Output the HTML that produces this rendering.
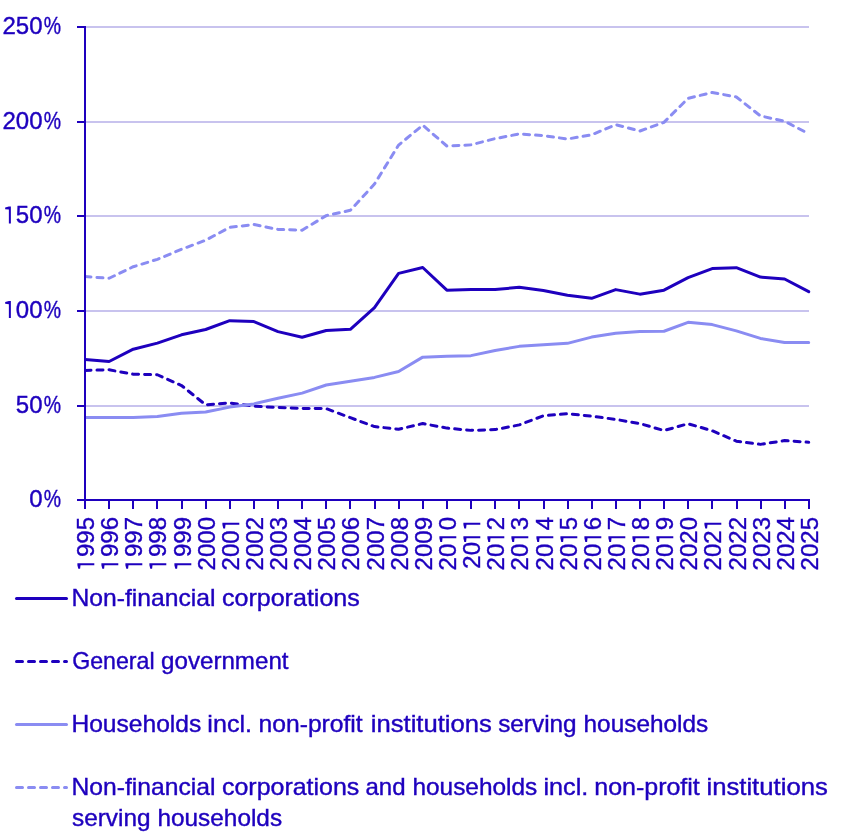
<!DOCTYPE html>
<html><head><meta charset="utf-8"><style>
html,body{margin:0;padding:0;background:#fff;}
body{width:850px;height:835px;overflow:hidden;}
svg{display:block;will-change:transform;}
text{font-family:"Liberation Sans", sans-serif;font-size:24px;fill:#1e00be;stroke:#1e00be;stroke-width:0.4px;}
.h{fill-opacity:0;stroke-opacity:0;}
.g1{fill:#1e00be;stroke:none;}
</style></head><body>
<svg width="850" height="835" viewBox="0 0 850 835">
<line x1="86" x2="809" y1="27" y2="27" stroke="#c8c3ee" stroke-width="2"/>
<line x1="86" x2="809" y1="122" y2="122" stroke="#c8c3ee" stroke-width="2"/>
<line x1="86" x2="809" y1="216" y2="216" stroke="#c8c3ee" stroke-width="2"/>
<line x1="86" x2="809" y1="311" y2="311" stroke="#c8c3ee" stroke-width="2"/>
<line x1="86" x2="809" y1="406" y2="406" stroke="#c8c3ee" stroke-width="2"/>
<line x1="77" x2="85" y1="27" y2="27" stroke="#1e00be" stroke-width="2"/>
<text x="42.5" y="34.20" text-anchor="end">250</text>
<text transform="translate(43.75,34.20) scale(0.81,1)">%</text>
<line x1="77" x2="85" y1="122" y2="122" stroke="#1e00be" stroke-width="2"/>
<text x="42.5" y="128.80" text-anchor="end">200</text>
<text transform="translate(43.75,128.80) scale(0.81,1)">%</text>
<line x1="77" x2="85" y1="216" y2="216" stroke="#1e00be" stroke-width="2"/>
<text x="42.5" y="223.40" text-anchor="end"><tspan class="h">1</tspan>50</text>
<path class="g1" transform="translate(0,223.40)" d="M10.87,0.00 L10.87,-16.90 L8.87,-16.90 L5.17,-16.00 L5.17,-14.20 L8.87,-13.80 L8.87,0.00Z"/>
<text transform="translate(43.75,223.40) scale(0.81,1)">%</text>
<line x1="77" x2="85" y1="311" y2="311" stroke="#1e00be" stroke-width="2"/>
<text x="42.5" y="318.00" text-anchor="end"><tspan class="h">1</tspan>00</text>
<path class="g1" transform="translate(0,318.00)" d="M10.87,0.00 L10.87,-16.90 L8.87,-16.90 L5.17,-16.00 L5.17,-14.20 L8.87,-13.80 L8.87,0.00Z"/>
<text transform="translate(43.75,318.00) scale(0.81,1)">%</text>
<line x1="77" x2="85" y1="406" y2="406" stroke="#1e00be" stroke-width="2"/>
<text x="42.5" y="412.60" text-anchor="end">50</text>
<text transform="translate(43.75,412.60) scale(0.81,1)">%</text>
<line x1="77" x2="85" y1="500" y2="500" stroke="#1e00be" stroke-width="2"/>
<text x="42.5" y="507.20" text-anchor="end">0</text>
<text transform="translate(43.75,507.20) scale(0.81,1)">%</text>
<line x1="85.00" x2="85.00" y1="500" y2="509" stroke="#1e00be" stroke-width="2"/>
<g transform="translate(94.30,517) rotate(-90)"><text text-anchor="end"><tspan class="h">1</tspan>995</text><path class="g1" d="M-46.15,0.00 L-46.15,-16.90 L-48.15,-16.90 L-51.85,-16.00 L-51.85,-14.20 L-48.15,-13.80 L-48.15,0.00Z"/></g>
<line x1="109.00" x2="109.00" y1="500" y2="509" stroke="#1e00be" stroke-width="2"/>
<g transform="translate(118.30,517) rotate(-90)"><text text-anchor="end"><tspan class="h">1</tspan>996</text><path class="g1" d="M-46.15,0.00 L-46.15,-16.90 L-48.15,-16.90 L-51.85,-16.00 L-51.85,-14.20 L-48.15,-13.80 L-48.15,0.00Z"/></g>
<line x1="133.00" x2="133.00" y1="500" y2="509" stroke="#1e00be" stroke-width="2"/>
<g transform="translate(142.30,517) rotate(-90)"><text text-anchor="end"><tspan class="h">1</tspan>997</text><path class="g1" d="M-46.15,0.00 L-46.15,-16.90 L-48.15,-16.90 L-51.85,-16.00 L-51.85,-14.20 L-48.15,-13.80 L-48.15,0.00Z"/></g>
<line x1="157.00" x2="157.00" y1="500" y2="509" stroke="#1e00be" stroke-width="2"/>
<g transform="translate(166.30,517) rotate(-90)"><text text-anchor="end"><tspan class="h">1</tspan>998</text><path class="g1" d="M-46.15,0.00 L-46.15,-16.90 L-48.15,-16.90 L-51.85,-16.00 L-51.85,-14.20 L-48.15,-13.80 L-48.15,0.00Z"/></g>
<line x1="182.00" x2="182.00" y1="500" y2="509" stroke="#1e00be" stroke-width="2"/>
<g transform="translate(191.30,517) rotate(-90)"><text text-anchor="end"><tspan class="h">1</tspan>999</text><path class="g1" d="M-46.15,0.00 L-46.15,-16.90 L-48.15,-16.90 L-51.85,-16.00 L-51.85,-14.20 L-48.15,-13.80 L-48.15,0.00Z"/></g>
<line x1="206.00" x2="206.00" y1="500" y2="509" stroke="#1e00be" stroke-width="2"/>
<g transform="translate(215.30,517) rotate(-90)"><text text-anchor="end">2000</text></g>
<line x1="230.00" x2="230.00" y1="500" y2="509" stroke="#1e00be" stroke-width="2"/>
<g transform="translate(239.30,517) rotate(-90)"><text text-anchor="end">200<tspan class="h">1</tspan></text><path class="g1" d="M-5.71,0.00 L-5.71,-16.90 L-7.71,-16.90 L-11.41,-16.00 L-11.41,-14.20 L-7.71,-13.80 L-7.71,0.00Z"/></g>
<line x1="254.00" x2="254.00" y1="500" y2="509" stroke="#1e00be" stroke-width="2"/>
<g transform="translate(263.30,517) rotate(-90)"><text text-anchor="end">2002</text></g>
<line x1="278.00" x2="278.00" y1="500" y2="509" stroke="#1e00be" stroke-width="2"/>
<g transform="translate(287.30,517) rotate(-90)"><text text-anchor="end">2003</text></g>
<line x1="302.00" x2="302.00" y1="500" y2="509" stroke="#1e00be" stroke-width="2"/>
<g transform="translate(311.30,517) rotate(-90)"><text text-anchor="end">2004</text></g>
<line x1="326.00" x2="326.00" y1="500" y2="509" stroke="#1e00be" stroke-width="2"/>
<g transform="translate(335.30,517) rotate(-90)"><text text-anchor="end">2005</text></g>
<line x1="350.00" x2="350.00" y1="500" y2="509" stroke="#1e00be" stroke-width="2"/>
<g transform="translate(359.30,517) rotate(-90)"><text text-anchor="end">2006</text></g>
<line x1="375.00" x2="375.00" y1="500" y2="509" stroke="#1e00be" stroke-width="2"/>
<g transform="translate(384.30,517) rotate(-90)"><text text-anchor="end">2007</text></g>
<line x1="399.00" x2="399.00" y1="500" y2="509" stroke="#1e00be" stroke-width="2"/>
<g transform="translate(408.30,517) rotate(-90)"><text text-anchor="end">2008</text></g>
<line x1="423.00" x2="423.00" y1="500" y2="509" stroke="#1e00be" stroke-width="2"/>
<g transform="translate(432.30,517) rotate(-90)"><text text-anchor="end">2009</text></g>
<line x1="447.00" x2="447.00" y1="500" y2="509" stroke="#1e00be" stroke-width="2"/>
<g transform="translate(456.30,517) rotate(-90)"><text text-anchor="end">20<tspan class="h">1</tspan>0</text><path class="g1" d="M-19.19,0.00 L-19.19,-16.90 L-21.19,-16.90 L-24.89,-16.00 L-24.89,-14.20 L-21.19,-13.80 L-21.19,0.00Z"/></g>
<line x1="471.00" x2="471.00" y1="500" y2="509" stroke="#1e00be" stroke-width="2"/>
<g transform="translate(480.30,517) rotate(-90)"><text text-anchor="end">20<tspan class="h">1</tspan><tspan class="h">1</tspan></text><path class="g1" d="M-19.19,0.00 L-19.19,-16.90 L-21.19,-16.90 L-24.89,-16.00 L-24.89,-14.20 L-21.19,-13.80 L-21.19,0.00Z"/><path class="g1" d="M-5.71,0.00 L-5.71,-16.90 L-7.71,-16.90 L-11.41,-16.00 L-11.41,-14.20 L-7.71,-13.80 L-7.71,0.00Z"/></g>
<line x1="495.00" x2="495.00" y1="500" y2="509" stroke="#1e00be" stroke-width="2"/>
<g transform="translate(504.30,517) rotate(-90)"><text text-anchor="end">20<tspan class="h">1</tspan>2</text><path class="g1" d="M-19.19,0.00 L-19.19,-16.90 L-21.19,-16.90 L-24.89,-16.00 L-24.89,-14.20 L-21.19,-13.80 L-21.19,0.00Z"/></g>
<line x1="519.00" x2="519.00" y1="500" y2="509" stroke="#1e00be" stroke-width="2"/>
<g transform="translate(528.30,517) rotate(-90)"><text text-anchor="end">20<tspan class="h">1</tspan>3</text><path class="g1" d="M-19.19,0.00 L-19.19,-16.90 L-21.19,-16.90 L-24.89,-16.00 L-24.89,-14.20 L-21.19,-13.80 L-21.19,0.00Z"/></g>
<line x1="544.00" x2="544.00" y1="500" y2="509" stroke="#1e00be" stroke-width="2"/>
<g transform="translate(553.30,517) rotate(-90)"><text text-anchor="end">20<tspan class="h">1</tspan>4</text><path class="g1" d="M-19.19,0.00 L-19.19,-16.90 L-21.19,-16.90 L-24.89,-16.00 L-24.89,-14.20 L-21.19,-13.80 L-21.19,0.00Z"/></g>
<line x1="568.00" x2="568.00" y1="500" y2="509" stroke="#1e00be" stroke-width="2"/>
<g transform="translate(577.30,517) rotate(-90)"><text text-anchor="end">20<tspan class="h">1</tspan>5</text><path class="g1" d="M-19.19,0.00 L-19.19,-16.90 L-21.19,-16.90 L-24.89,-16.00 L-24.89,-14.20 L-21.19,-13.80 L-21.19,0.00Z"/></g>
<line x1="592.00" x2="592.00" y1="500" y2="509" stroke="#1e00be" stroke-width="2"/>
<g transform="translate(601.30,517) rotate(-90)"><text text-anchor="end">20<tspan class="h">1</tspan>6</text><path class="g1" d="M-19.19,0.00 L-19.19,-16.90 L-21.19,-16.90 L-24.89,-16.00 L-24.89,-14.20 L-21.19,-13.80 L-21.19,0.00Z"/></g>
<line x1="616.00" x2="616.00" y1="500" y2="509" stroke="#1e00be" stroke-width="2"/>
<g transform="translate(625.30,517) rotate(-90)"><text text-anchor="end">20<tspan class="h">1</tspan>7</text><path class="g1" d="M-19.19,0.00 L-19.19,-16.90 L-21.19,-16.90 L-24.89,-16.00 L-24.89,-14.20 L-21.19,-13.80 L-21.19,0.00Z"/></g>
<line x1="640.00" x2="640.00" y1="500" y2="509" stroke="#1e00be" stroke-width="2"/>
<g transform="translate(649.30,517) rotate(-90)"><text text-anchor="end">20<tspan class="h">1</tspan>8</text><path class="g1" d="M-19.19,0.00 L-19.19,-16.90 L-21.19,-16.90 L-24.89,-16.00 L-24.89,-14.20 L-21.19,-13.80 L-21.19,0.00Z"/></g>
<line x1="664.00" x2="664.00" y1="500" y2="509" stroke="#1e00be" stroke-width="2"/>
<g transform="translate(673.30,517) rotate(-90)"><text text-anchor="end">20<tspan class="h">1</tspan>9</text><path class="g1" d="M-19.19,0.00 L-19.19,-16.90 L-21.19,-16.90 L-24.89,-16.00 L-24.89,-14.20 L-21.19,-13.80 L-21.19,0.00Z"/></g>
<line x1="688.00" x2="688.00" y1="500" y2="509" stroke="#1e00be" stroke-width="2"/>
<g transform="translate(697.30,517) rotate(-90)"><text text-anchor="end">2020</text></g>
<line x1="712.00" x2="712.00" y1="500" y2="509" stroke="#1e00be" stroke-width="2"/>
<g transform="translate(721.30,517) rotate(-90)"><text text-anchor="end">202<tspan class="h">1</tspan></text><path class="g1" d="M-5.71,0.00 L-5.71,-16.90 L-7.71,-16.90 L-11.41,-16.00 L-11.41,-14.20 L-7.71,-13.80 L-7.71,0.00Z"/></g>
<line x1="737.00" x2="737.00" y1="500" y2="509" stroke="#1e00be" stroke-width="2"/>
<g transform="translate(746.30,517) rotate(-90)"><text text-anchor="end">2022</text></g>
<line x1="761.00" x2="761.00" y1="500" y2="509" stroke="#1e00be" stroke-width="2"/>
<g transform="translate(770.30,517) rotate(-90)"><text text-anchor="end">2023</text></g>
<line x1="785.00" x2="785.00" y1="500" y2="509" stroke="#1e00be" stroke-width="2"/>
<g transform="translate(794.30,517) rotate(-90)"><text text-anchor="end">2024</text></g>
<line x1="809.00" x2="809.00" y1="500" y2="509" stroke="#1e00be" stroke-width="2"/>
<g transform="translate(818.30,517) rotate(-90)"><text text-anchor="end">2025</text></g>
<defs><clipPath id="pc"><rect x="85" y="0" width="740" height="500"/></clipPath></defs><g clip-path="url(#pc)">
<path d="M85.00,359.42 L109.12,361.51 L133.25,349.21 L157.37,343.15 L181.49,334.83 L205.62,329.53 L229.74,320.64 L253.86,321.58 L277.99,331.61 L302.11,337.29 L326.23,330.48 L350.36,329.34 L374.48,307.58 L398.60,273.34 L422.73,267.47 L446.85,290.18 L470.97,289.42 L495.10,289.42 L519.22,287.34 L543.34,290.56 L567.47,295.29 L591.59,298.31 L615.71,289.61 L639.84,294.15 L663.96,290.18 L688.08,277.69 L712.21,268.61 L736.33,267.66 L760.45,277.12 L784.58,279.01 L808.70,291.69" fill="none" stroke="#1e00be" stroke-width="3" stroke-linejoin="round" stroke-linecap="round"/>
<path d="M85.00,370.40 L109.12,369.83 L133.25,374.18 L157.37,374.75 L181.49,385.53 L205.62,404.83 L229.74,402.94 L253.86,406.16 L277.99,407.48 L302.11,408.43 L326.23,408.62 L350.36,417.70 L374.48,426.59 L398.60,429.24 L422.73,423.56 L446.85,428.10 L470.97,430.37 L495.10,429.62 L519.22,424.89 L543.34,415.81 L567.47,413.72 L591.59,416.18 L615.71,419.40 L639.84,423.56 L663.96,430.56 L688.08,423.75 L712.21,430.75 L736.33,441.16 L760.45,444.38 L784.58,440.59 L808.70,442.29" fill="none" stroke="#1e00be" stroke-width="3" stroke-dasharray="6,6" stroke-linejoin="round" stroke-linecap="round"/>
<path d="M85.00,417.51 L109.12,417.51 L133.25,417.51 L157.37,416.56 L181.49,413.16 L205.62,412.02 L229.74,407.10 L253.86,403.89 L277.99,398.21 L302.11,393.10 L326.23,384.97 L350.36,381.18 L374.48,377.40 L398.60,371.53 L422.73,357.15 L446.85,356.21 L470.97,355.64 L495.10,350.53 L519.22,346.37 L543.34,344.67 L567.47,343.34 L591.59,337.10 L615.71,333.31 L639.84,331.42 L663.96,331.23 L688.08,322.34 L712.21,324.61 L736.33,330.86 L760.45,338.42 L784.58,342.59 L808.70,342.59" fill="none" stroke="#8a8cf2" stroke-width="3" stroke-linejoin="round" stroke-linecap="round"/>
<path d="M85.00,276.55 L109.12,278.26 L133.25,266.72 L157.37,259.34 L181.49,249.31 L205.62,240.23 L229.74,227.36 L253.86,224.52 L277.99,229.44 L302.11,230.20 L326.23,215.63 L350.36,210.33 L374.48,184.04 L398.60,145.06 L422.73,125.19 L446.85,146.01 L470.97,144.87 L495.10,138.63 L519.22,133.90 L543.34,135.60 L567.47,139.01 L591.59,134.84 L615.71,124.63 L639.84,131.06 L663.96,122.36 L688.08,98.33 L712.21,92.46 L736.33,97.00 L760.45,115.92 L784.58,121.22 L808.70,133.71" fill="none" stroke="#8a8cf2" stroke-width="3" stroke-dasharray="6,6" stroke-linejoin="round" stroke-linecap="round"/>
</g>
<line x1="85" x2="85" y1="26" y2="501" stroke="#1e00be" stroke-width="2"/>
<line x1="77" x2="810" y1="500" y2="500" stroke="#1e00be" stroke-width="2"/>
<line x1="16.5" x2="66.5" y1="598.5" y2="598.5" stroke="#1e00be" stroke-width="3" stroke-linecap="round"/>
<text x="71.44" y="606" textLength="144.07" lengthAdjust="spacingAndGlyphs">Non-financial</text>
<text x="221.96" y="606" textLength="137.87" lengthAdjust="spacingAndGlyphs">corporations</text>
<line x1="16.5" x2="66.5" y1="661.5" y2="661.5" stroke="#1e00be" stroke-width="3" stroke-linecap="round" stroke-dasharray="6,6"/>
<text x="72.13" y="668.5" textLength="82.41" lengthAdjust="spacingAndGlyphs">General</text>
<text x="161.09" y="668.5" textLength="127.45" lengthAdjust="spacingAndGlyphs">government</text>
<line x1="16.5" x2="66.5" y1="724.5" y2="724.5" stroke="#8a8cf2" stroke-width="3" stroke-linecap="round"/>
<text x="71.45" y="732" textLength="129.82" lengthAdjust="spacingAndGlyphs">Households</text>
<text x="207.36" y="732" textLength="44.61" lengthAdjust="spacingAndGlyphs">incl.</text>
<text x="258.57" y="732" textLength="104.13" lengthAdjust="spacingAndGlyphs">non-profit</text>
<text x="370.83" y="732" textLength="120.98" lengthAdjust="spacingAndGlyphs">institutions</text>
<text x="498.19" y="732" textLength="78.41" lengthAdjust="spacingAndGlyphs">serving</text>
<text x="583.59" y="732" textLength="124.59" lengthAdjust="spacingAndGlyphs">households</text>
<line x1="16.5" x2="66.5" y1="787.5" y2="787.5" stroke="#8a8cf2" stroke-width="3" stroke-linecap="round" stroke-dasharray="6,6"/>
<text x="71.54" y="795" textLength="143.96" lengthAdjust="spacingAndGlyphs">Non-financial</text>
<text x="221.96" y="795" textLength="137.36" lengthAdjust="spacingAndGlyphs">corporations</text>
<text x="365.50" y="795" textLength="40.05" lengthAdjust="spacingAndGlyphs">and</text>
<text x="412.48" y="795" textLength="124.79" lengthAdjust="spacingAndGlyphs">households</text>
<text x="543.45" y="795" textLength="44.82" lengthAdjust="spacingAndGlyphs">incl.</text>
<text x="594.26" y="795" textLength="105.55" lengthAdjust="spacingAndGlyphs">non-profit</text>
<text x="706.43" y="795" textLength="121.39" lengthAdjust="spacingAndGlyphs">institutions</text>
<text x="71.99" y="826" textLength="78.51" lengthAdjust="spacingAndGlyphs">serving</text>
<text x="157.49" y="826" textLength="124.59" lengthAdjust="spacingAndGlyphs">households</text>
</svg>
</body></html>
